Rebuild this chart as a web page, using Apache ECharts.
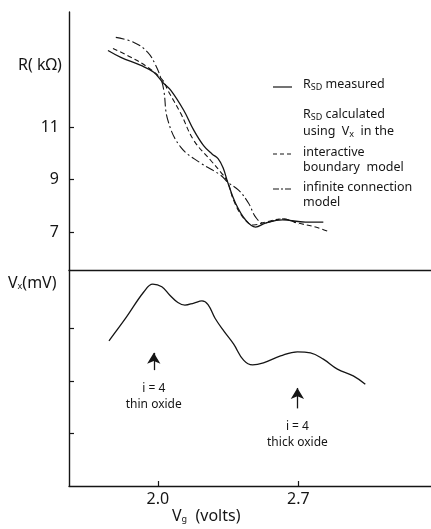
<!DOCTYPE html>
<html>
<head>
<meta charset="utf-8">
<script src="https://cdn.jsdelivr.net/npm/echarts@6/dist/echarts.min.js"></script>
<style>
  html, body { margin: 0; background: #fff; }
  #chart { width: 431px; height: 529px; }
</style>
</head>
<body>
<div id="chart"></div>
<script>
// R_SD measured (kOhm) vs Vg (volts)
const measuredVg = [1.752, 1.816, 1.916, 1.980, 2.025, 2.065, 2.129, 2.179, 2.228, 2.270, 2.300, 2.325, 2.348, 2.387, 2.437, 2.487, 2.536, 2.621, 2.735, 2.824]
const measuredR = [13.93, 13.67, 13.36, 13.10, 12.71, 12.41, 11.65, 10.89, 10.30, 9.98, 9.80, 9.45, 8.90, 8.10, 7.46, 7.19, 7.34, 7.46, 7.38, 7.38]

// R_SD calculated, interactive boundary model
const boundaryVg = [1.777, 1.866, 1.950, 2.025, 2.050, 2.114, 2.179, 2.263, 2.313, 2.348, 2.377, 2.427, 2.477, 2.536, 2.621, 2.700, 2.785, 2.844]
const boundaryR = [14.01, 13.67, 13.29, 12.79, 12.41, 11.53, 10.50, 9.74, 9.29, 8.90, 8.22, 7.53, 7.27, 7.38, 7.50, 7.34, 7.19, 7.04]

// R_SD calculated, infinite connection model
const infiniteVg = [1.791, 1.881, 1.950, 1.990, 2.015, 2.030, 2.050, 2.114, 2.214, 2.313, 2.348, 2.402, 2.452, 2.487, 2.526, 2.621, 2.700]
const infiniteR = [14.43, 14.24, 13.86, 13.36, 12.87, 12.41, 11.27, 10.24, 9.63, 9.17, 8.90, 8.60, 8.10, 7.57, 7.34, 7.50, 7.30]

// Vx (mV) vs Vg
const vxVg = [1.757, 1.840, 1.930, 1.975, 2.020, 2.060, 2.100, 2.135, 2.180, 2.220, 2.250, 2.285, 2.330, 2.377, 2.427, 2.472, 2.526, 2.611, 2.695, 2.760, 2.824, 2.894, 2.973, 3.033]
const vxValues = [2.77, 3.20, 3.70, 3.85, 3.80, 3.64, 3.50, 3.45, 3.49, 3.53, 3.46, 3.20, 2.95, 2.71, 2.40, 2.31, 2.35, 2.48, 2.56, 2.54, 2.42, 2.23, 2.10, 1.94]

const rTicks = [7, 9, 11]
const vxTicks = [1, 2, 3]
const vgTicks = [2.0, 2.7]

// arrows: [Vg, tail Vx, tip Vx]
const arrowVg = [1.98, 2.695]
const arrowTail = [2.21, 1.48]
const arrowTip = [2.54, 1.87]
const arrowText = [['i = 4', 'thin oxide'], ['i = 4', 'thick oxide']]

const zip = (xs, ys) => xs.map((x, i) => [x, ys[i]])

const ink = '#151515'
const font = 'Noto Sans'
const chart = echarts.init(document.getElementById('chart'))

const xBase = {
  type: 'value',
  min: 1.558,
  max: 3.36,
  splitLine: { show: false },
  axisLine: { lineStyle: { color: ink, width: 1.4 } }
}
const yBase = {
  type: 'value',
  splitLine: { show: false },
  axisLine: { show: true, lineStyle: { color: ink, width: 1.4 } },
  axisTick: { show: true, inside: true, length: 5, lineStyle: { color: ink, width: 1.2 } }
}
const lineBase = {
  type: 'line',
  showSymbol: false,
  smooth: 0.4,
  silent: true
}

const arrowLines = arrowVg.map((x, i) => [
  { coord: [x, arrowTail[i]] },
  { coord: [x, arrowTip[i]] }
])

chart.setOption({
  backgroundColor: '#fff',
  animation: false,
  grid: [
    { left: 69, right: 0, top: 12, height: 258 },
    { left: 69, right: 0, top: 270, height: 216 }
  ],
  xAxis: [
    Object.assign({}, xBase, {
      gridIndex: 0,
      axisTick: { show: false },
      axisLabel: { show: false }
    }),
    Object.assign({}, xBase, {
      gridIndex: 1,
      axisTick: { show: true, inside: true, length: 5, customValues: vgTicks, lineStyle: { color: ink, width: 1.2 } },
      axisLabel: {
        customValues: vgTicks,
        formatter: v => v.toFixed(1),
        color: ink,
        fontFamily: font,
        fontSize: 16,
        margin: 5
      }
    })
  ],
  yAxis: [
    Object.assign({}, yBase, {
      gridIndex: 0,
      min: 5.55,
      max: 15.4,
      axisTick: Object.assign({}, yBase.axisTick, { customValues: rTicks }),
      axisLabel: { customValues: rTicks, color: ink, fontFamily: font, fontSize: 16, margin: 10 }
    }),
    Object.assign({}, yBase, {
      gridIndex: 1,
      min: 0,
      max: 4.12,
      axisTick: Object.assign({}, yBase.axisTick, { customValues: vxTicks }),
      axisLabel: { show: false }
    })
  ],
  series: [
    Object.assign({}, lineBase, {
      name: 'measured',
      xAxisIndex: 0, yAxisIndex: 0,
      data: zip(measuredVg, measuredR),
      lineStyle: { color: ink, width: 1.3 }
    }),
    Object.assign({}, lineBase, {
      name: 'interactive boundary model',
      xAxisIndex: 0, yAxisIndex: 0,
      data: zip(boundaryVg, boundaryR),
      lineStyle: { color: ink, width: 1.1, type: [5, 3] }
    }),
    Object.assign({}, lineBase, {
      name: 'infinite connection model',
      xAxisIndex: 0, yAxisIndex: 0,
      data: zip(infiniteVg, infiniteR),
      lineStyle: { color: ink, width: 1.1, type: [9, 3, 2, 3] }
    }),
    Object.assign({}, lineBase, {
      name: 'Vx',
      xAxisIndex: 1, yAxisIndex: 1,
      data: zip(vxVg, vxValues),
      lineStyle: { color: ink, width: 1.3 },
      markLine: {
        silent: true,
        symbol: ['none', 'arrow'],
        symbolSize: [10, 11],
        label: { show: false },
        lineStyle: { color: ink, width: 1.3, type: 'solid' },
        data: arrowLines
      }
    })
  ]
})

// legend and axis titles
const txt = (left, top, text, size, extra) => ({
  type: 'text',
  left: left,
  top: top,
  style: Object.assign({
    text: text,
    fill: ink,
    font: size + 'px "' + font + '"'
  }, extra || {})
})
const rich = {
  sub: { fontSize: 9, fontFamily: font, fill: ink, verticalAlign: 'bottom', padding: [6, 0, 0, 0] }
}
const legendLine = (y, dash) => ({
  type: 'line',
  shape: { x1: 273, y1: y, x2: 292, y2: y },
  style: { stroke: ink, lineWidth: 1.2, lineDash: dash }
})

const graphics = [
  txt(18, 57, 'R( kΩ)', 16),
  txt(8, 275, 'V{sub|x}(mV)', 16, { rich: rich }),
  txt(172, 508, 'V{sub|g}  (volts)', 16, { rich: rich }),
  legendLine(87, null),
  txt(303, 78, 'R{sub|SD} measured', 12.5, { rich: rich }),
  txt(303, 108, 'R{sub|SD} calculated', 12.5, { rich: rich }),
  txt(303, 125, 'using  V{sub|x}  in the', 12.5, { rich: rich }),
  legendLine(154, [4, 3]),
  txt(303, 146, 'interactive', 12.5),
  txt(303, 161, 'boundary  model', 12.5),
  legendLine(189, [6, 2, 2, 2]),
  txt(303, 181, 'infinite connection', 12.5),
  txt(303, 196, 'model', 12.5)
]

// annotation text under arrows, placed through the axes
arrowVg.forEach((x, i) => {
  const p = chart.convertToPixel({ xAxisIndex: 1, yAxisIndex: 1 }, [x, arrowTail[i]])
  graphics.push({
    type: 'text',
    x: p[0],
    y: p[1] + 10,
    style: {
      text: arrowText[i][0] + '\n' + arrowText[i][1],
      fill: ink,
      font: '12px "' + font + '"',
      align: 'center',
      lineHeight: 16
    }
  })
})

chart.setOption({ graphic: graphics })
</script>
</body>
</html>
